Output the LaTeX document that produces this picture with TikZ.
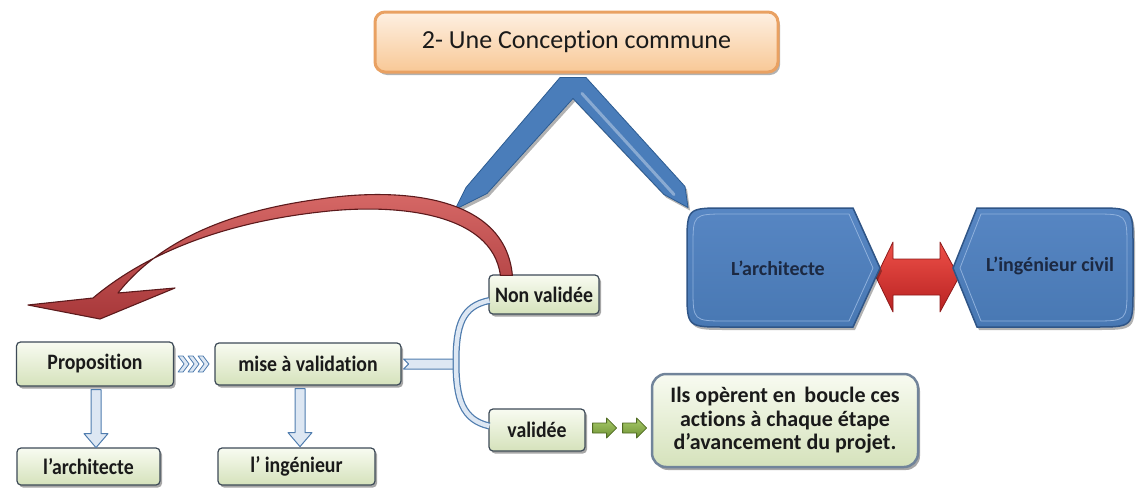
\documentclass[tikz,border=0pt]{standalone}
\usepackage{fontspec}
\setmainfont{Carlito}[Ligatures={NoCommon}]
\newfontfamily\boxfont{Carlito}[FakeStretch=0.9, Ligatures={NoCommon}]
\usetikzlibrary{shadows,calc}

\definecolor{boxline}{HTML}{3D4A57}
\definecolor{boxtop}{HTML}{F8FBF1}
\definecolor{boxbot}{HTML}{D5E2BB}
\definecolor{ink}{HTML}{1A1A1A}
\definecolor{titletop}{HTML}{FEF0E2}
\definecolor{titlebot}{HTML}{F8C896}
\definecolor{titleline}{HTML}{E9A162}
\definecolor{chevfill}{HTML}{4A7DBA}
\definecolor{chevline}{HTML}{2D5C92}
\definecolor{hextop}{HTML}{5786C3}
\definecolor{hexbot}{HTML}{4878B3}
\definecolor{hexline}{HTML}{2F5587}
\definecolor{hexhi}{HTML}{8EB0DC}
\definecolor{hexink}{HTML}{1C2942}
\definecolor{dbltop}{HTML}{EE5048}
\definecolor{dblbot}{HTML}{B82222}
\definecolor{dblline}{HTML}{8E1A1A}
\definecolor{looptop}{HTML}{D86A68}
\definecolor{loopbot}{HTML}{A8383A}
\definecolor{loopline}{HTML}{5C1A1C}
\definecolor{rib}{HTML}{DDE7F3}
\definecolor{ribline}{HTML}{4F7CAE}
\definecolor{grntop}{HTML}{A9CB6A}
\definecolor{grnbot}{HTML}{6E9234}
\definecolor{grnline}{HTML}{4F6A22}
\definecolor{ilsline}{HTML}{71849A}

\begin{document}
\begin{tikzpicture}[x=1pt,y=-1pt,
  box/.style={draw=boxline, line width=1.2pt, rounded corners=4pt,
    top color=boxtop, bottom color=boxbot, inner sep=0pt,
    font=\boxfont\bfseries\fontsize{22}{24}\selectfont, text=ink,
    drop shadow={shadow xshift=2pt, shadow yshift=-2.5pt, opacity=.35, fill=black}},
  titlebox/.style={draw=titleline, line width=3pt, rounded corners=10pt,
    top color=titletop, bottom color=titlebot, inner sep=0pt,
    font=\fontsize{26}{30}\selectfont, text=ink,
    drop shadow={shadow xshift=2pt, shadow yshift=-3pt, opacity=.3, fill=black}},
  ilsbox/.style={draw=ilsline, line width=2.5pt, rounded corners=14pt,
    top color=boxtop, bottom color=boxbot, inner sep=0pt, align=center,
    font=\fontsize{22}{23.5}\selectfont\bfseries, text=ink,
    drop shadow={shadow xshift=2pt, shadow yshift=-3pt, opacity=.35, fill=black}},
  hexshape/.style={draw=hexline, line width=1.5pt, top color=hextop, bottom color=hexbot,
    drop shadow={shadow xshift=2pt, shadow yshift=-3pt, opacity=.3, fill=black}},
  hexbevel/.style={draw=hexhi, line width=.8pt},
  hextext/.style={font=\fontsize{20}{22}\selectfont\bfseries, text=hexink},
  hollow/.style={fill=rib, draw=ribline, line width=1pt, line join=round},
  grnarrow/.style={top color=grntop, bottom color=grnbot, draw=grnline, line width=.8pt, line join=round},
]
\useasboundingbox (0,0) rectangle (1136,493);

% ---- red double arrow between the two partners (behind them)
\node[hextext] (hexA) at (778,268) {};
\node[hextext] (hexI) at (1050,266) {};
\path[top color=dbltop, bottom color=dblbot, draw=dblline, line width=.8pt, line join=round]
  (876,277) -- (893,242) -- (893,259) -- (940,259) -- (940,242) -- (959,277)
  -- (940,312) -- (940,295) -- (893,295) -- (893,312) -- cycle;

% ---- the two partners
\path[hexshape] (853,208) -- (880,268) -- (853,327) -- (725,327)
  .. controls (687,327) .. (687,290) -- (687,245) .. controls (687,208) .. (725,208) -- cycle;
\draw[hexbevel] (849,214) -- (873,268) -- (849,321) -- (727,321)
  .. controls (693,321) .. (693,288) -- (693,247) .. controls (693,214) .. (727,214) -- cycle;
\path[hexshape] (977,208) -- (1095,208) .. controls (1133,208) .. (1133,245) -- (1133,290)
  .. controls (1133,327) .. (1095,327) -- (977,327) -- (953,268) -- cycle;
\draw[hexbevel] (981,214) -- (1093,214) .. controls (1127,214) .. (1127,247) -- (1127,288)
  .. controls (1127,321) .. (1093,321) -- (981,321) -- (960,268) -- cycle;
\node[hextext] at (hexA) {L’architecte};
\node[hextext] at (hexI) {L’ingénieur civil};

% ---- title and the blue chevron below it
\node[titlebox, minimum width=403pt, minimum height=60pt] (title) at (576.5,42) {2- Une Conception commune};
\begin{scope}[shift={($(title.south)-(576.5,72)$)}]
  \path[fill=chevfill, draw=chevline, line width=.8pt, line join=round,
        drop shadow={shadow xshift=2pt, shadow yshift=-3pt, opacity=.3, fill=black}]
    (560,76) -- (586,76) -- (685,185) -- (688,206) -- (664,193) -- (573,97)
    -- (487,192) -- (455,208) -- (466,186) -- cycle;
  \draw[white, opacity=.35, line width=3pt, line cap=round] (582,92) -- (674,193);
\end{scope}

% ---- process boxes
\node[box, minimum width=157pt, minimum height=44pt] (prop) at (95,364) {Proposition};
\node[box, minimum width=186pt, minimum height=42pt] (mise) at (308,364) {mise à validation};
\node[box, minimum width=143pt, minimum height=37pt] (archi) at (88.5,466.5) {l’architecte};
\node[box, minimum width=157pt, minimum height=37pt] (inge) at (296.5,466.5) {l’ ingénieur};
\node[box, minimum width=110pt, minimum height=39pt] (nonv) at (544,294.5) {Non validée};
\node[box, minimum width=96pt, minimum height=42pt] (valid) at (537,430) {validée};
\node[ilsbox, minimum width=266pt, minimum height=93pt] (ils) at (785,420.5)
  {Ils opèrent en\, boucle ces\\ actions à chaque étape\\ d’avancement du projet.};

% ---- chevrons from Proposition to mise à validation
\begin{scope}[shift={(prop.east)}]
  \foreach \dx in {4,14,24}
    \path[hollow, line width=.8pt] (\dx,-8) -- (\dx+5,-8) -- (\dx+11,0) -- (\dx+5,8) -- (\dx,8) -- (\dx+6,0) -- cycle;
\end{scope}

% ---- hollow down arrows
\begin{scope}[shift={($(prop.south)+(1,3)$)}]
  \path[hollow] (-5,0) -- (5,0) -- (5,44) -- (12,44) -- (0,58) -- (-12,44) -- (-5,44) -- cycle;
\end{scope}
\begin{scope}[shift={($(mise.south)+(-8,3)$)}]
  \path[hollow] (-5,0) -- (5,0) -- (5,44) -- (12,44) -- (0,58) -- (-12,44) -- (-5,44) -- cycle;
\end{scope}

% ---- split towards the two outcomes
\begin{scope}[shift={(mise.east)}]
  \path[hollow] (2,-5) -- (56,-5) -- (56,5) -- (2,5) -- (7,0) -- cycle;
\end{scope}
\foreach \w/\c in {7pt/ribline, 4.5pt/rib}
  \draw[\c, line width=\w] ($(nonv.west)+(1,6)$) .. controls (462,306) and (456,325) .. (456,362)
    .. controls (456,398) and (462,420) .. ($(valid.west)+(1,-4)$);

% ---- green arrows from validée to the conclusion
\begin{scope}[shift={($(valid.east)+(7,-2)$)}]
  \foreach \dx in {0,30}
    \path[grnarrow] (\dx,-5) -- (\dx+14,-5) -- (\dx+14,-10) -- (\dx+24,0) -- (\dx+14,10)
      -- (\dx+14,5) -- (\dx,5) -- cycle;
\end{scope}

% ---- loop back from Non validée to Proposition
\coordinate (looptip) at (100,319);
\path[top color=looptop, bottom color=loopbot, draw=loopline, line width=1.1pt, line join=round]
  ($(nonv.north west)+(24,1)$) .. controls (505,195) and (400,187) .. (320,199)
  .. controls (230,211) and (160,240) .. (118,293)
  -- (175,288) -- (looptip) -- (28,305) -- (93,298)
  .. controls (150,250) and (230,222) .. (320,212)
  .. controls (395,203) and (492,212) .. ($(nonv.north west)+(12,1)$) -- cycle;

\end{tikzpicture}
\end{document}
